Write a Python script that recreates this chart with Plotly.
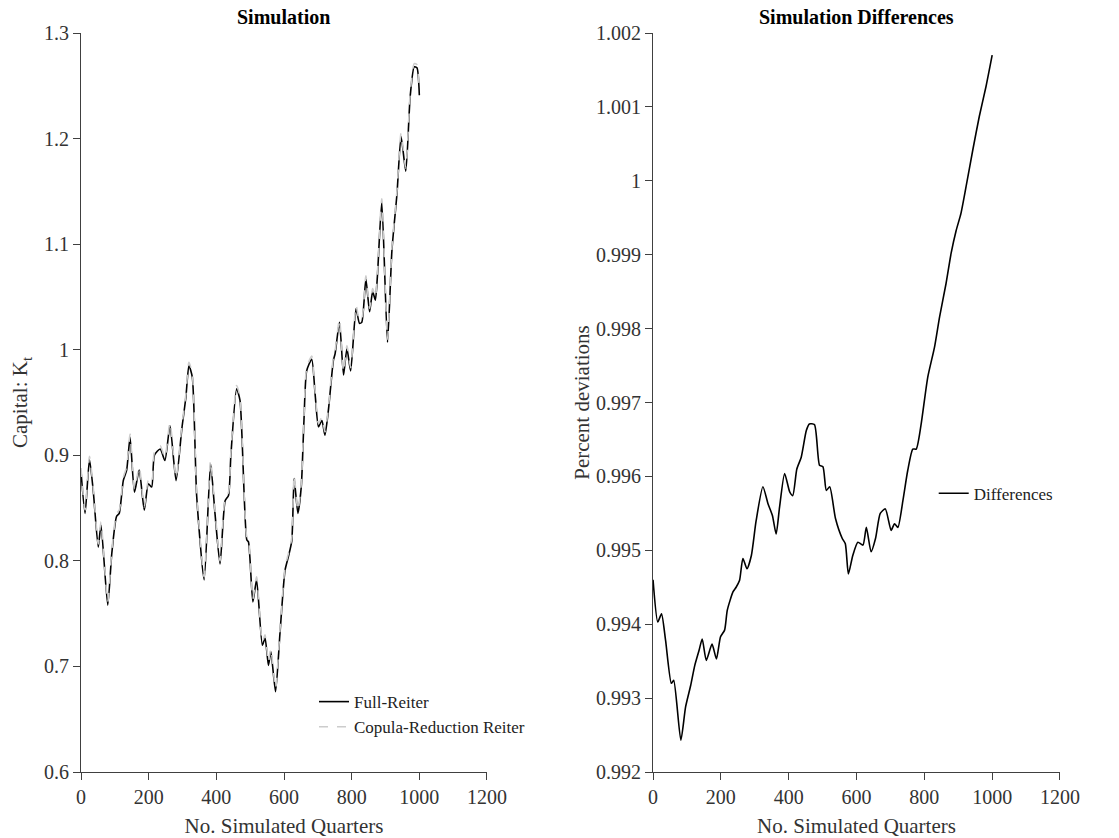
import plotly.graph_objects as go
from plotly.subplots import make_subplots

# ---- data ----
quarters = [0, 12, 25, 36, 51, 59, 79, 91, 105, 113,
            125, 135, 145, 158, 172, 187, 199, 209, 217, 234,
            248, 263, 281, 298, 310, 319, 329, 342, 364, 383,
            396, 411, 426, 436, 443, 460, 470, 490, 495, 508,
            519, 536, 544, 554, 561, 575, 588, 603, 613, 623,
            630, 641, 651, 659, 667, 682, 692, 702, 712, 721,
            731, 746, 751, 764, 776, 786, 797, 813, 823, 830,
            842, 853, 862, 870, 876, 889, 906, 919, 934, 946,
            960, 973, 985, 993, 1000]
full_reiter = [0.885, 0.845, 0.896, 0.867, 0.813, 0.834, 0.758, 0.807, 0.842, 0.845,
               0.876, 0.886, 0.917, 0.865, 0.886, 0.848, 0.873, 0.870, 0.900, 0.906,
               0.895, 0.928, 0.876, 0.925, 0.955, 0.985, 0.974, 0.861, 0.782, 0.892,
               0.845, 0.797, 0.857, 0.862, 0.900, 0.963, 0.952, 0.820, 0.818, 0.761,
               0.782, 0.720, 0.727, 0.701, 0.714, 0.676, 0.731, 0.791, 0.804, 0.819,
               0.878, 0.845, 0.870, 0.933, 0.980, 0.991, 0.958, 0.927, 0.933, 0.919,
               0.942, 0.990, 0.996, 1.026, 0.976, 1.001, 0.980, 1.039, 1.025, 1.026,
               1.067, 1.036, 1.055, 1.047, 1.069, 1.140, 1.007, 1.094, 1.148, 1.202,
               1.169, 1.240, 1.268, 1.267, 1.241]
copula_reiter = [0.888, 0.848, 0.899, 0.870, 0.816, 0.837, 0.761, 0.810, 0.845, 0.848,
                 0.879, 0.889, 0.920, 0.868, 0.889, 0.851, 0.876, 0.873, 0.903, 0.909,
                 0.898, 0.931, 0.879, 0.928, 0.958, 0.988, 0.977, 0.864, 0.785, 0.895,
                 0.848, 0.800, 0.860, 0.865, 0.903, 0.966, 0.955, 0.823, 0.821, 0.764,
                 0.785, 0.723, 0.730, 0.704, 0.717, 0.679, 0.734, 0.794, 0.807, 0.822,
                 0.881, 0.848, 0.873, 0.936, 0.983, 0.994, 0.961, 0.930, 0.936, 0.922,
                 0.945, 0.993, 0.999, 1.029, 0.979, 1.004, 0.983, 1.042, 1.028, 1.029,
                 1.070, 1.039, 1.058, 1.050, 1.072, 1.143, 1.010, 1.097, 1.151, 1.205,
                 1.172, 1.243, 1.271, 1.270, 1.244]

diff_quarters = [0, 14, 25, 37, 54, 61, 82, 96, 111, 123,
                 136, 145, 157, 174, 187, 199, 211, 219, 236, 245,
                 255, 265, 277, 290, 304, 324, 339, 352, 363, 373,
                 388, 403, 412, 424, 437, 452, 461, 476, 491, 501,
                 511, 521, 538, 558, 567, 576, 589, 604, 619, 629,
                 643, 656, 670, 685, 702, 712, 722, 737, 751, 766,
                 776, 790, 810, 830, 845, 864, 879, 894, 908, 923,
                 943, 962, 982, 1000]
differences = [0.99460, 0.99403, 0.99414, 0.99378, 0.99320, 0.99324, 0.99243, 0.99288, 0.99317, 0.99344,
               0.99365, 0.99380, 0.99351, 0.99373, 0.99353, 0.99383, 0.99392, 0.99419, 0.99444, 0.99450,
               0.99459, 0.99489, 0.99475, 0.99493, 0.99540, 0.99586, 0.99563, 0.99547, 0.99522, 0.99558,
               0.99604, 0.99579, 0.99574, 0.99610, 0.99626, 0.99662, 0.99671, 0.99670, 0.99615, 0.99613,
               0.99581, 0.99586, 0.99543, 0.99516, 0.99509, 0.99468, 0.99493, 0.99511, 0.99507, 0.99531,
               0.99498, 0.99516, 0.99550, 0.99556, 0.99527, 0.99536, 0.99531, 0.99568, 0.99608, 0.99637,
               0.99637, 0.99669, 0.99734, 0.99775, 0.99816, 0.99861, 0.99902, 0.99933, 0.99956, 0.99992,
               1.00042, 1.00087, 1.00128, 1.00170]

assert len(quarters) == len(full_reiter) == len(copula_reiter)
assert len(diff_quarters) == len(differences)

FONT = "Liberation Serif, Times New Roman, serif"
AX = "#404040"

fig = make_subplots(rows=1, cols=2)

fig.add_trace(go.Scatter(x=quarters, y=full_reiter, mode="lines", name="Full-Reiter",
                         line=dict(color="black", width=1.6, shape="spline", smoothing=0.6),
                         legend="legend"), row=1, col=1)
fig.add_trace(go.Scatter(x=quarters, y=copula_reiter, mode="lines", name="Copula-Reduction Reiter",
                         line=dict(color="#cccccc", width=1.6, dash="dash", shape="spline", smoothing=0.6),
                         legend="legend"), row=1, col=1)
fig.add_trace(go.Scatter(x=diff_quarters, y=differences, mode="lines", name="Differences",
                         line=dict(color="black", width=1.6, shape="spline", smoothing=0.6),
                         legend="legend2"), row=1, col=2)

axis_common = dict(showline=True, linecolor=AX, linewidth=1, ticks="outside", ticklen=7,
                   tickcolor=AX, showgrid=False, zeroline=False, automargin=False,
                   tickfont=dict(family=FONT, size=20, color="#333333"))

fig.update_xaxes(**axis_common, range=[0, 1200], dtick=200,
                 title=dict(text="No. Simulated Quarters", font=dict(family=FONT, size=21, color="#333333"),
                            standoff=15))
fig.update_yaxes(**axis_common)
fig.update_yaxes(range=[0.6, 1.3], dtick=0.1, row=1, col=1,
                 title=dict(text="Capital: K<sub>t</sub>", font=dict(family=FONT, size=21, color="#333333"),
                            standoff=10))
fig.update_yaxes(range=[0.992, 1.002], dtick=0.001, row=1, col=2,
                 title=dict(text="Percent deviations", font=dict(family=FONT, size=21, color="#333333"),
                            standoff=0))

fig.update_layout(
    width=1119, height=838,
    plot_bgcolor="white", paper_bgcolor="white",
    margin=dict(l=81, r=59, t=33, b=66),
    xaxis=dict(domain=[0, 0.4147]),
    xaxis2=dict(domain=[0.5843, 1.0]),
    legend=dict(x=0.238, y=0.119, xanchor="left", yanchor="top",
                font=dict(family=FONT, size=17, color="#222222"),
                bgcolor="rgba(0,0,0,0)", tracegroupgap=0),
    legend2=dict(x=0.871, y=0.401, xanchor="left", yanchor="top",
                 font=dict(family=FONT, size=17, color="#222222"),
                 bgcolor="rgba(0,0,0,0)"),
    annotations=[
        dict(text="<b>Simulation</b>", x=0.2073, y=1.0217, xref="paper", yref="paper",
             xanchor="center", yanchor="middle", showarrow=False,
             font=dict(family=FONT, size=20, color="black")),
        dict(text="<b>Simulation Differences</b>", x=0.7921, y=1.0217, xref="paper", yref="paper",
             xanchor="center", yanchor="middle", showarrow=False,
             font=dict(family=FONT, size=20, color="black")),
    ],
)

fig.write_html("out.html")
